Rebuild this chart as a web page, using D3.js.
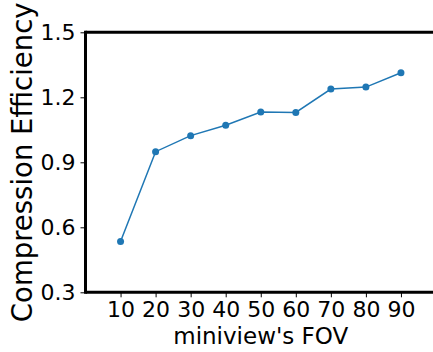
<!DOCTYPE html>
<html>
<head>
<meta charset="utf-8">
<script src="https://cdn.jsdelivr.net/npm/d3@7"></script>
<style>
  html, body { margin: 0; padding: 0; background: #fff; }
  svg { display: block; font-family: "DejaVu Sans", sans-serif; }
</style>
</head>
<body>
<svg id="chart" width="433" height="352"></svg>
<script>
// Miniview field of view vs. compression efficiency
const fov = [10, 20, 30, 40, 50, 60, 70, 80, 90];
const efficiency = [0.534, 0.949, 1.023, 1.071, 1.132, 1.130, 1.238, 1.247, 1.313];
const xTicks = [10, 20, 30, 40, 50, 60, 70, 80, 90];
const yTicks = [0.3, 0.6, 0.9, 1.2, 1.5];

const svg = d3.select("#chart");
const plotLeft = 85.5, plotRight = 436, plotTop = 32.3, plotBottom = 292.3;

const x = d3.scaleLinear().domain([0, 100]).range([plotLeft, plotRight]);
const y = d3.scaleLinear().domain([0.3, 1.5]).range([plotBottom, plotTop]);

const color = "#1f77b4";
const points = fov.map((d, i) => [d, efficiency[i]]);

// series line and markers
svg.append("path")
  .datum(points)
  .attr("fill", "none")
  .attr("stroke", color)
  .attr("stroke-width", 1.5)
  .attr("d", d3.line().x(d => x(d[0])).y(d => y(d[1])));

svg.append("g").selectAll("circle")
  .data(points)
  .join("circle")
  .attr("cx", d => x(d[0]))
  .attr("cy", d => y(d[1]))
  .attr("r", 3.5)
  .attr("fill", color);

// axes
const yAxis = d3.axisLeft(y).tickValues(yTicks).tickFormat(d3.format(".1f"))
  .tickSize(5).tickPadding(5);
const xAxis = d3.axisBottom(x).tickValues(xTicks).tickFormat(d3.format("d"))
  .tickSize(5).tickPadding(4);

const gy = svg.append("g").attr("transform", `translate(${plotLeft},0)`).call(yAxis);
const gx = svg.append("g").attr("transform", `translate(0,${plotBottom})`).call(xAxis);

[gx, gy].forEach(g => {
  g.select(".domain").remove();
  g.selectAll(".tick line").attr("stroke", "#000").attr("stroke-width", 1);
  g.selectAll(".tick text").attr("fill", "#000")
    .style("font-family", "DejaVu Sans").style("font-size", "22px");
});

// spines: left, top, bottom
svg.append("line").attr("x1", plotLeft).attr("x2", plotLeft).attr("y1", plotTop - 1.5).attr("y2", plotBottom + 1.5)
  .attr("stroke", "#000").attr("stroke-width", 3);
svg.append("line").attr("x1", plotLeft).attr("x2", plotRight).attr("y1", plotTop).attr("y2", plotTop)
  .attr("stroke", "#000").attr("stroke-width", 3);
svg.append("line").attr("x1", plotLeft).attr("x2", plotRight).attr("y1", plotBottom).attr("y2", plotBottom)
  .attr("stroke", "#000").attr("stroke-width", 3);

// axis titles
svg.append("text")
  .attr("x", (plotLeft + plotRight) / 2).attr("y", 344)
  .attr("text-anchor", "middle")
  .style("font-size", "23px")
  .text("miniview's FOV");

svg.append("text")
  .attr("transform", `translate(32,${(plotTop + plotBottom) / 2}) rotate(-90)`)
  .attr("text-anchor", "middle")
  .style("font-size", "27.5px")
  .text("Compression Efficiency");
</script>
</body>
</html>
